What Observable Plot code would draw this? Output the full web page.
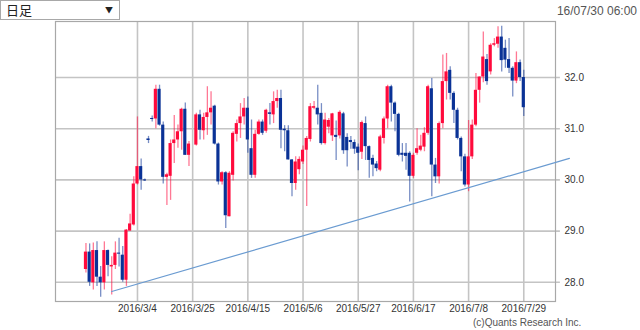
<!DOCTYPE html>
<html><head><meta charset="utf-8">
<script src="https://cdn.jsdelivr.net/npm/d3@7"></script>
<script src="https://cdn.jsdelivr.net/npm/@observablehq/plot@0.6"></script>
<style>
body{margin:0;background:#fff;font-family:"Liberation Sans",Arial,sans-serif;}
#wrap{position:relative;width:640px;height:330px;overflow:hidden;}
#sel{position:absolute;left:0;top:0;width:118px;height:18px;border:1px solid #a8a8a8;background:#fff;font-family:"Noto Sans CJK JP",sans-serif;font-size:13px;line-height:18px;color:#222;}
#sel .t{position:absolute;left:5px;top:0;}
#sel .a{position:absolute;right:6px;top:0;font-size:8px;color:#222;}
#stamp{position:absolute;right:3px;top:4px;font-size:12px;color:#555;}
#cap{position:absolute;left:473px;top:317px;font-size:10px;line-height:11px;color:#555;}
</style></head>
<body><div id="wrap"><div id="chart"></div>
<div id="sel"><span class="t">日足</span><span class="a">▼</span></div>
<div id="stamp">16/07/30 06:00</div>
<div id="cap">(c)Quants Research Inc.</div>
</div>
<script>
// Daily candles, index = weekday slot from 2016/2/15 (null = no trading)
const openV  = [28.25,28.59,27.99,28.62,28.10,27.99,28.62,28.30,28.33,28.57,28.53,28.04,29.00,29.12,29.92,30.26,30.00,30.80,31.20,31.19,31.77,31.07,30.05,30.07,30.71,30.78,30.94,31.38,30.48,null,
30.68,31.27,30.96,31.22,31.31,31.44,30.70,29.96,30.14,29.28,30.09,30.89,31.10,31.23,31.40,30.61,30.09,30.89,31.13,30.95,31.31,31.27,31.53,31.59,30.99,30.96,30.39,29.93,30.20,30.35,
30.58,30.79,31.40,31.40,31.30,30.71,31.03,30.86,30.87,30.86,31.29,30.83,30.77,30.73,30.64,30.54,31.10,30.65,30.42,30.31,30.19,30.81,31.19,31.82,31.50,31.28,30.52,30.52,30.52,30.07,
30.52,30.58,30.64,30.91,31.78,30.29,30.06,31.10,31.92,32.14,31.69,31.36,30.81,30.45,29.90,30.45,31.07,31.75,32.01,32.35,32.11,32.63,32.65,32.79,32.57,32.35,32.18,31.93,32.29,32.00];
const highV  = [28.76,28.75,28.77,28.79,28.31,28.79,28.63,28.50,28.79,28.86,28.70,29.03,29.33,30.06,31.23,30.41,30.02,30.85,31.25,31.85,31.85,31.13,30.13,30.78,31.26,31.07,31.40,31.50,30.75,null,
31.30,31.36,31.30,31.82,31.72,31.46,30.72,30.16,30.16,30.16,30.94,31.17,31.49,31.59,31.62,31.17,30.97,31.17,31.17,31.38,31.49,31.72,31.75,31.75,31.06,31.06,30.40,30.45,30.45,30.66,
30.85,31.49,31.53,31.85,31.49,31.30,31.20,31.30,31.15,31.35,31.32,30.90,30.85,30.78,30.70,31.15,31.23,30.66,30.48,30.36,30.87,31.23,31.85,31.85,31.52,31.30,30.71,30.71,30.55,30.52,
31.00,30.87,31.02,31.85,31.98,30.42,31.13,32.44,32.47,32.21,31.72,31.40,30.84,30.50,31.16,31.17,32.08,32.01,32.89,32.45,32.66,32.76,32.99,33.00,32.73,32.76,32.21,32.50,32.34,32.14];
const lowV   = [28.18,27.92,27.85,27.92,27.71,27.85,28.11,27.75,28.25,28.30,28.00,27.92,29.00,29.10,29.90,29.80,29.97,30.71,31.13,31.00,31.05,29.92,29.50,29.60,30.32,30.62,30.58,30.48,30.26,null,
30.66,30.78,30.78,30.87,31.07,30.68,29.90,29.90,29.05,29.28,29.98,30.74,30.81,31.07,30.52,30.03,30.03,30.87,30.87,30.91,31.07,31.10,31.40,30.61,30.55,30.39,29.67,29.80,30.10,30.30,
29.48,30.74,31.37,31.07,30.68,30.68,30.90,30.75,30.38,30.80,30.50,30.25,30.60,30.50,30.18,30.40,30.38,30.03,30.06,30.16,30.16,30.70,31.00,31.13,30.94,30.45,30.35,30.19,29.57,30.03,
30.48,30.55,30.55,30.87,29.67,29.93,29.92,31.00,31.56,31.56,31.10,30.78,30.16,29.86,29.77,30.40,31.04,31.50,31.90,31.85,32.05,32.60,32.57,32.11,32.18,32.08,31.62,31.88,31.92,31.24];
const closeV = [28.59,28.00,28.62,28.10,27.99,28.62,28.33,28.33,28.57,28.55,28.04,29.02,29.14,29.92,30.26,30.00,29.98,30.77,31.18,31.77,31.07,30.05,30.10,30.71,30.78,30.94,31.38,30.48,30.70,null,
31.27,30.97,31.22,31.31,31.40,30.70,29.96,30.14,29.30,30.13,30.91,31.10,31.23,31.40,30.78,30.09,30.89,31.13,30.91,31.36,31.28,31.53,31.59,30.97,30.96,30.39,29.93,30.35,30.40,30.58,
30.81,31.43,31.43,31.27,30.71,31.17,31.16,31.29,30.83,31.32,30.57,30.57,30.73,30.60,30.52,31.12,30.65,30.38,30.29,30.22,30.84,31.19,31.82,31.50,31.28,30.48,30.48,30.46,30.07,30.48,
30.61,30.66,30.91,31.82,30.29,30.06,31.10,31.92,32.11,31.69,31.36,30.81,30.45,29.90,30.45,31.07,31.75,32.01,32.40,31.92,32.63,32.66,32.79,32.33,32.34,32.18,31.93,32.29,32.00,31.41];

const tickIdx    = [14,29,44,59,74,89,104,119];
const tickLabels = ["2016/3/4","2016/3/25","2016/4/15","2016/5/6","2016/5/27","2016/6/17","2016/7/8","2016/7/29"];
const yTicks     = [28,29,30,31,32];

// support trend line (two anchor points, slot index / price)
const trendIdx = [7, 131.4];
const trendVal = [27.82, 30.42];

const RED = "#ff0a3c", BLUE = "#0a3296";
const candles = openV.map((o, i) => ({i, open: o, high: highV[i], low: lowV[i], close: closeV[i]}))
  .filter(d => d.open != null)
  .map(d => ({...d, col: d.close >= d.open ? RED : BLUE,
              b1: d.open, b2: Math.abs(d.close - d.open) < 0.02 ? d.open + (d.close >= d.open ? 0.02 : -0.02) : d.close}));
const trend = trendIdx.map((x, k) => ({x, y: trendVal[k]}));

const xDom = [-8.28, 127.62];
const xGridEnd = 128.95;

const chart = Plot.plot({
  width: 640, height: 330,
  marginLeft: 55, marginRight: 85, marginTop: 21, marginBottom: 29,
  style: {fontFamily: "Liberation Sans, Arial, sans-serif", fontSize: "10px", color: "#333", background: "#fff", overflow: "visible"},
  x: {type: "linear", domain: xDom, ticks: tickIdx, tickFormat: d => tickLabels[tickIdx.indexOf(d)], tickSize: 0, tickPadding: 3, label: null},
  y: {domain: [27.625, 33.094], ticks: yTicks, tickSize: 0, tickPadding: 9, axis: "right", label: null},
  color: {type: "identity"},
  marks: [
    Plot.ruleX(tickIdx, {stroke: "#c4c4c4", strokeWidth: 1.6}),
    Plot.ruleY(yTicks, {x1: xDom[0], x2: xGridEnd, stroke: "#c4c4c4", strokeWidth: 1.6}),
    Plot.frame({stroke: "#a8a8a8", strokeWidth: 1.2}),
    Plot.ruleX(candles, {x: "i", y1: "low", y2: "high", stroke: "col", strokeOpacity: 0.55, strokeWidth: 1.3}),
    Plot.rect(candles, {x1: d => d.i - 0.43, x2: d => d.i + 0.43, y1: "b1", y2: "b2", fill: "col"}),
    Plot.line(trend, {x: "x", y: "y", stroke: "#6a9bd1", strokeWidth: 1.2})
  ]
});
document.getElementById("chart").appendChild(chart);
</script>
</body></html>
